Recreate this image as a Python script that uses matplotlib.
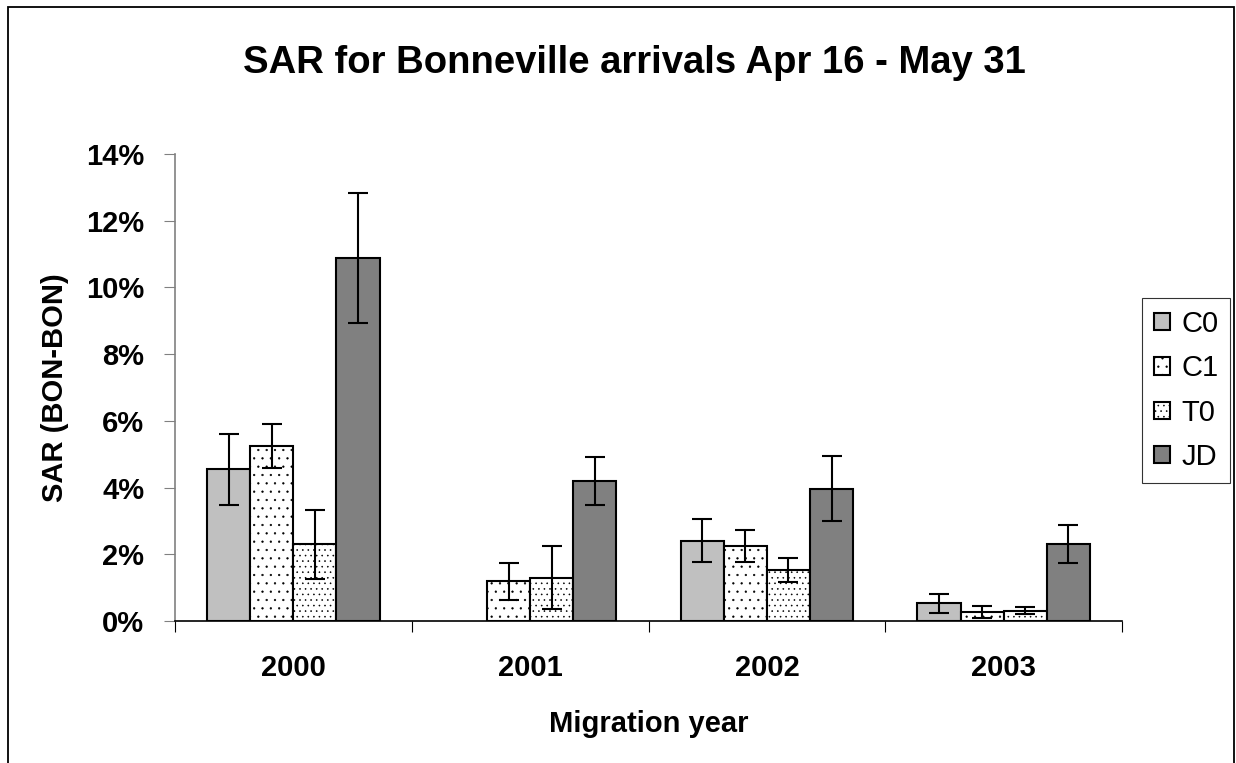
import matplotlib
matplotlib.use("Agg")
import matplotlib.pyplot as plt
import matplotlib.patches as mpatches
import numpy as np

plt.rcParams['font.family'] = ['Liberation Sans', 'DejaVu Sans']
plt.rcParams['hatch.linewidth'] = 0.4

years = ["2000", "2001", "2002", "2003"]
series = ["C0", "C1", "T0", "JD"]
sar = {
    "C0": [4.55, 0.0, 2.41, 0.53],
    "C1": [5.26, 1.19, 2.25, 0.26],
    "T0": [2.30, 1.30, 1.52, 0.31],
    "JD": [10.87, 4.20, 3.97, 2.31],
}
err = {
    "C0": [1.07, 0.0, 0.64, 0.28],
    "C1": [0.66, 0.56, 0.47, 0.18],
    "T0": [1.03, 0.95, 0.36, 0.10],
    "JD": [1.95, 0.72, 0.97, 0.56],
}
colors = {"C0": "#C0C0C0", "C1": "white", "T0": "white", "JD": "#808080"}
hatches = {"C0": None, "C1": "..", "T0": "...", "JD": None}
yticks = [0, 2, 4, 6, 8, 10, 12, 14]

fig = plt.figure(figsize=(12.36, 7.63), dpi=100)
ax = fig.add_axes([0.1416, 0.1861, 0.7662, 0.6121])

x = np.arange(len(years))
w = 0.182
for i, s in enumerate(series):
    off = (i - 1.5) * w
    vals = np.array(sar[s])
    e = np.array(err[s])
    mask = vals > 0
    ax.bar(x[mask] + off, vals[mask], width=w, color=colors[s], edgecolor="black",
           linewidth=1.5, hatch=hatches[s], label=s, zorder=2)
    ax.errorbar(x[mask] + off, vals[mask], yerr=e[mask], fmt="none", ecolor="black",
                elinewidth=1.5, capsize=7, capthick=1.5, zorder=3)

ax.set_xlim(-0.5, len(years) - 0.5)
ax.set_ylim(0, 14)
ax.set_yticks(yticks)
ax.set_yticklabels([f"{t}%" for t in yticks], fontsize=21, fontweight="bold")
ax.set_xticks(np.arange(-0.5, len(years), 1.0))
ax.set_xticklabels([])
ax.set_xticks(x, minor=True)
ax.set_xticklabels(years, minor=True, fontsize=21, fontweight="bold")
ax.tick_params(axis="x", which="minor", length=0, pad=23.5)
ax.tick_params(axis="x", which="major", length=8, direction="out", color="black")
ax.tick_params(axis="y", length=8, direction="out", color="#808080", pad=14)
for sp in ["top", "right"]:
    ax.spines[sp].set_visible(False)
ax.spines["left"].set_color("#808080")
ax.spines["left"].set_linewidth(1.2)
ax.spines["bottom"].set_color("black")
ax.spines["bottom"].set_linewidth(1.2)

ax.set_ylabel("SAR (BON-BON)", fontsize=21, fontweight="bold", labelpad=12.5)
ax.set_xlabel("Migration year", fontsize=21, fontweight="bold", labelpad=20.5)
fig.text(0.513, 0.918, "SAR for Bonneville arrivals Apr 16 - May 31", ha="center",
         va="center", fontsize=27.5, fontweight="bold")

leg = fig.legend(loc="upper left", bbox_to_anchor=(0.924, 0.609), fontsize=21,
                 frameon=True, fancybox=False, edgecolor="black", handlelength=0.55,
                 handleheight=0.55, handletextpad=0.4, labelspacing=0.56,
                 borderpad=0.4, borderaxespad=0)
leg.get_frame().set_linewidth(0.8)

border = mpatches.Rectangle((8 / 1236, -0.02), (1234 - 8) / 1236, 1 - 7 / 763 + 0.02,
                            transform=fig.transFigure, fill=False, edgecolor="black",
                            linewidth=1.3, clip_on=False)
fig.patches.append(border)

fig.savefig("out.png", dpi=100)
